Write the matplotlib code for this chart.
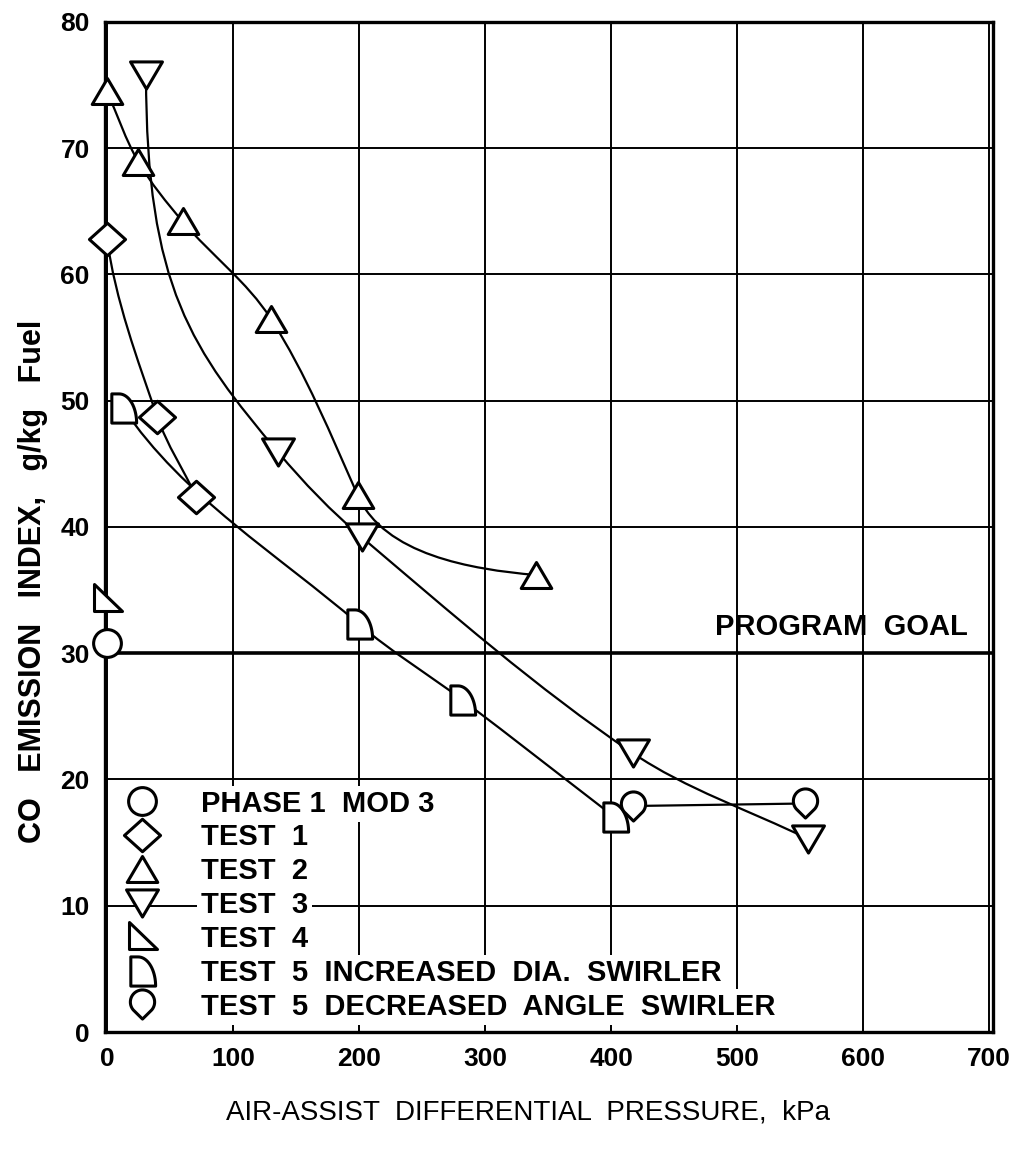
import numpy as np
import matplotlib.pyplot as plt
from matplotlib.path import Path
from matplotlib.patches import PathPatch

plt.rcParams['font.family'] = ['Liberation Sans', 'DejaVu Sans']

# values (x in kPa, y in g/kg fuel)
phase1_x = [0]
phase1_y = [30.8]
test1_x = [0, 40, 71]
test1_y = [62.8, 48.7, 42.4]
test2_x = [0, 25, 60, 130, 199, 340]
test2_y = [74.5, 68.9, 64.2, 56.5, 42.5, 36.2]
test3_x = [31, 136, 202, 417, 556]
test3_y = [75.8, 45.9, 39.2, 22.1, 15.3]
test4_x = [0]
test4_y = [34.3]
test5i_x = [13, 200, 282, 403]
test5i_y = [49.4, 32.3, 26.3, 17.0]
test5d_x = [417, 554]
test5d_y = [17.9, 18.1]
goal = 30

labels = ['PHASE 1  MOD 3', 'TEST  1', 'TEST  2', 'TEST  3', 'TEST  4',
          'TEST  5  INCREASED  DIA.  SWIRLER', 'TEST  5  DECREASED  ANGLE  SWIRLER']


# marker shapes
def poly(pts):
    pts = list(pts) + [pts[0]]
    return Path(pts, [Path.MOVETO] + [Path.LINETO] * (len(pts) - 2) + [Path.CLOSEPOLY])

tri_up = poly([(0, 0.85), (-1, -0.85), (1, -0.85)])
tri_dn = poly([(0, -0.85), (-1, 0.85), (1, 0.85)])
diamond = poly([(0, 0.9), (1, 0), (0, -0.9), (-1, 0)])
right_tri = poly([(-0.9, 1), (-0.9, -0.8), (1, -0.8)])
a = np.linspace(np.pi / 2, 0, 20)
d_shape = poly([(-0.8, -1), (-0.8, 1)] + list(zip(-0.3 + 1.2 * np.cos(a), -1 + 2 * np.sin(a))))
a = np.linspace(np.radians(-40), np.radians(220), 30)
pin = poly(list(zip(np.cos(a), 0.2 + np.sin(a))) + [(0, -1.2)])


def smooth(xs, ys, tangents={}):
    # cubic bezier through the points, y scaled x10 so the space is ~square on screen
    # tangents: index -> (angle in degrees, handle length factor)
    p = np.column_stack([xs, np.array(ys) * 10.0])
    n = len(p)
    d, f = [], []
    for i in range(n):
        if i in tangents:
            ang, k = tangents[i]
            r = np.radians(ang)
            v = np.array([np.cos(r), np.sin(r)])
        else:
            v = p[min(i + 1, n - 1)] - p[max(i - 1, 0)]
            v = v / np.hypot(*v)
            k = 1.0
        d.append(v)
        f.append(k)
    verts = [p[0]]
    codes = [Path.MOVETO]
    for i in range(n - 1):
        L = np.hypot(*(p[i + 1] - p[i])) / 3
        verts += [p[i] + d[i] * L * f[i], p[i + 1] - d[i + 1] * L * f[i + 1], p[i + 1]]
        codes += [Path.CURVE4] * 3
    verts = np.array(verts)
    verts[:, 1] /= 10.0
    return Path(verts, codes)


fig = plt.figure(figsize=(10.25, 11.5), dpi=100)
ax = fig.add_axes([0.1024, 0.1026, 0.8664, 0.8783])

ax.set_xlim(-1.6, 703)
ax.set_ylim(0, 80)
ax.set_xticks(range(0, 701, 100))
ax.set_yticks(range(0, 81, 10))
ax.grid(True, color='black', lw=1.4)
ax.set_axisbelow(True)
ax.tick_params(length=0, labelsize=19, pad=11)
for t in ax.get_xticklabels() + ax.get_yticklabels():
    t.set_fontweight('bold')
for s in ax.spines.values():
    s.set_linewidth(2.4)

ax.axhline(goal, color='black', lw=2.6, zorder=2)
ax.text(683, 31.0, 'PROGRAM  GOAL', fontsize=21, fontweight='bold', ha='right', va='bottom')

# fitted curves
curve_lw = 1.6
ax.add_patch(PathPatch(smooth(test1_x, test1_y, {0: (-82, 1.0)}), fill=False, lw=curve_lw, ec='black', zorder=3))
ax.add_patch(PathPatch(smooth(test2_x, test2_y, {4: (-66, 1.0), 5: (-5, 1.0)}), fill=False, lw=curve_lw, ec='black', zorder=3))
ax.add_patch(PathPatch(smooth(test3_x, test3_y, {0: (-90, 1.6), 1: (-50, 1.0)}), fill=False, lw=curve_lw, ec='black', zorder=3))
ax.add_patch(PathPatch(smooth(test5i_x, test5i_y, {0: (-56, 1.0)}), fill=False, lw=curve_lw, ec='black', zorder=3))
ax.plot(test5d_x, test5d_y, color='black', lw=curve_lw, zorder=3)

mk = dict(ls='none', mfc='white', mec='black', mew=2.2, zorder=4, clip_on=False)
ax.plot(phase1_x, phase1_y, marker='o', ms=20, label=labels[0], **mk)
ax.plot(test1_x, test1_y, marker=diamond, ms=26, label=labels[1], **mk)
ax.plot(test2_x, test2_y, marker=tri_up, ms=22, label=labels[2], **mk)
ax.plot(test3_x, test3_y, marker=tri_dn, ms=23, label=labels[3], **mk)
ax.plot(test4_x, test4_y, marker=right_tri, ms=21, label=labels[4], **mk)
ax.plot(test5i_x, test5i_y, marker=d_shape, ms=21, label=labels[5], **mk)
ax.plot(test5d_x, test5d_y, marker=pin, ms=21, label=labels[6], **mk)

leg = ax.legend(loc='upper left', bbox_to_anchor=(0.0225, 0.2400), frameon=False,
                borderpad=0, borderaxespad=0, handlelength=1.2, handletextpad=1.4,
                labelspacing=0.2, prop={'size': 21, 'weight': 'bold'})
for t in leg.get_texts():
    t.set_bbox(dict(facecolor='white', edgecolor='none', pad=3))

ax.set_xlabel('AIR-ASSIST  DIFFERENTIAL  PRESSURE,  kPa', fontsize=20)
ax.xaxis.set_label_coords(0.476, -0.067)
ax.set_ylabel('CO   EMISSION   INDEX,   g/kg   Fuel', fontsize=22, fontweight='bold')
ax.yaxis.set_label_coords(-0.064, 0.446)

fig.savefig('out.png', dpi=100)
